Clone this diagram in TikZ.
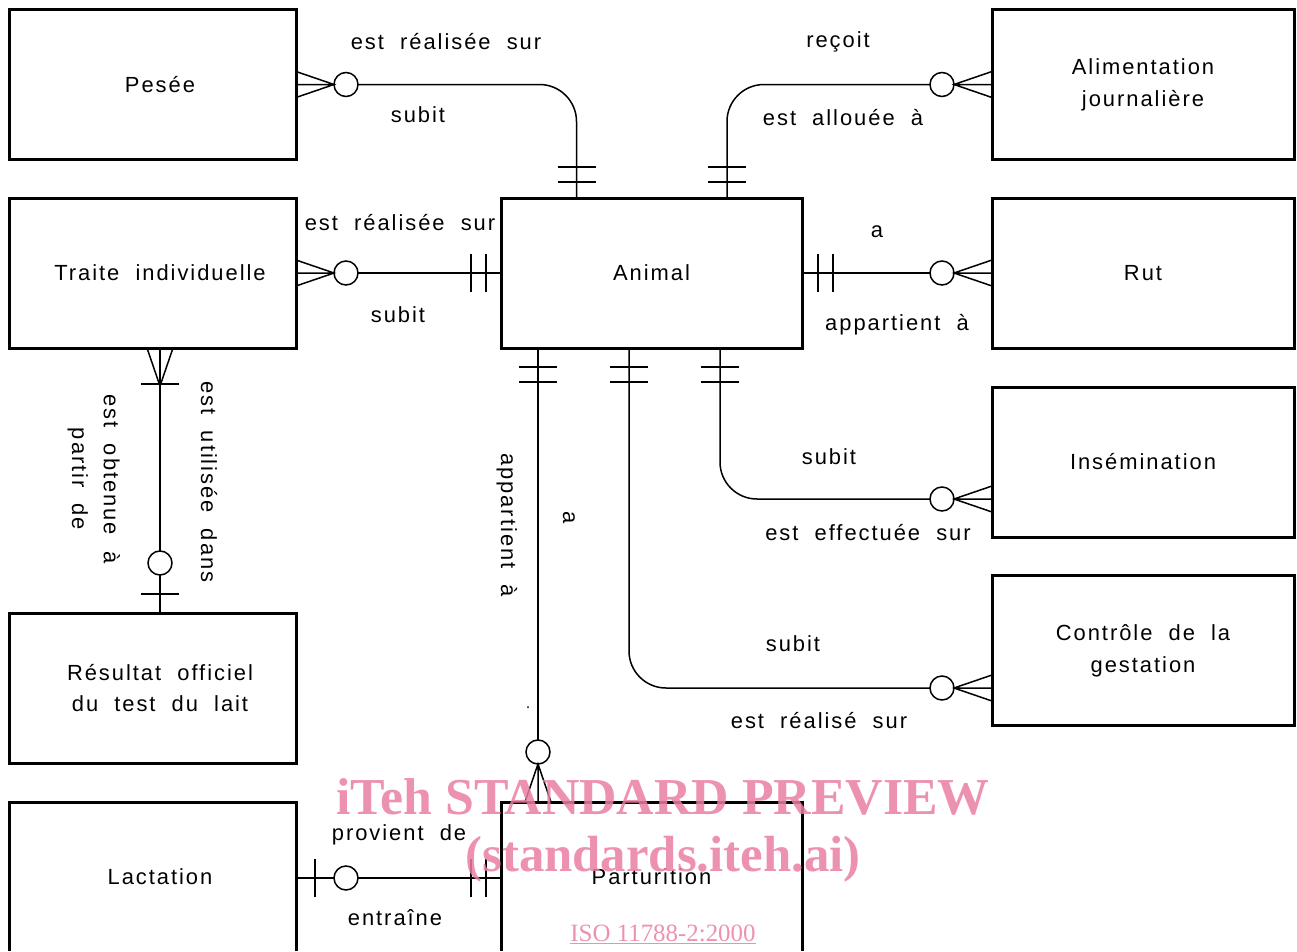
\documentclass[tikz,border=0pt]{standalone}
\usepackage{fontspec}
\setmainfont{Liberation Sans}
\newfontfamily\labfont[LetterSpace=9,WordSpace=2]{Liberation Sans}
\newfontfamily\wmfont{Liberation Serif}
\usetikzlibrary{calc}
\definecolor{wmpink}{RGB}{234,126,164}
\newcommand{\lsh}{\hspace*{14bp}}
\tikzset{
  ent/.style={draw, line width=3bp, outer sep=0pt, inner sep=0pt,
    minimum width=286bp, minimum height=150bp, align=center,
    font=\labfont\fontsize{22}{32}\selectfont},
  wide/.style={minimum width=302bp},
  mid/.style={minimum width=301bp},
  conn/.style={line width=1.5bp},
  opt/.style={draw, circle, line width=1.5bp, minimum size=24bp, inner sep=0pt, outer sep=0pt},
  lbl/.style={font=\labfont\fontsize{22}{32}\selectfont, inner sep=0pt, anchor=base, align=center},
  vlbl/.style={lbl, rotate=-90},
  wmtext/.style={text=wmpink, text opacity=0.85, inner sep=0pt, anchor=base},
  crow/.pic={\draw[conn] (0,-13) -- (38,0) -- (0,13) (0,0) -- (38,0);},
  twobar/.pic={\draw[conn] (#1,-19) -- (#1,19) (#1+15,-19) -- (#1+15,19);},
  onebar/.pic={\draw[conn] (#1,-19) -- (#1,19);},
}
\begin{document}
\begin{tikzpicture}[x=1bp,y=-1bp]
\useasboundingbox (0,0) rectangle (1297,952);
\clip (0,0) rectangle (1297,950);

% entities
\node[ent] (pesee) at (153,84.5) {\lsh Pesée};
\node[ent,wide] (alim) at (1143,84.5) {Alimentation\\journalière};
\node[ent] (traite) at (153,273) {\lsh Traite individuelle};
\node[ent,mid] (animal) at (651.5,273) {Animal};
\node[ent,wide] (rut) at (1143,273) {Rut};
\node[ent,wide] (insem) at (1143,462) {Insémination};
\node[ent,wide] (gest) at (1143,650.5) {Contrôle de la\\gestation};
\node[ent] (result) at (153,688) {\lsh Résultat officiel\\\lsh du test du lait};
\node[ent] (lact) at (153,877) {\lsh Lactation};
\node[ent,mid] (part) at (651.5,877) {Parturition};

% Pesee -- Animal
\pic at (pesee.east) {crow};
\node[opt] (o1) at ($(pesee.east)+(50,0)$) {};
\coordinate (a1) at ($(animal.north west)+(75.5,0)$);
\draw[conn, rounded corners=37bp] (o1.east) -| (a1);
\pic[rotate=90] at (a1) {twobar=16};

% Alimentation -- Animal
\pic[rotate=180] at (alim.west) {crow};
\node[opt] (o2) at ($(alim.west)+(-50,0)$) {};
\coordinate (a2) at ($(animal.north west)+(226,0)$);
\draw[conn, rounded corners=37bp] (o2.west) -| (a2);
\pic[rotate=90] at (a2) {twobar=16};

% Traite -- Animal
\pic at (traite.east) {crow};
\node[opt] (o3) at ($(traite.east)+(50,0)$) {};
\draw[conn] (o3.east) -- (animal.west);
\pic[rotate=180] at (animal.west) {twobar=15};

% Animal -- Rut
\pic[rotate=180] at (rut.west) {crow};
\node[opt] (o4) at ($(rut.west)+(-50,0)$) {};
\draw[conn] (animal.east) -- (o4.west);
\pic at (animal.east) {twobar=16};

% Traite -- Resultat
\coordinate (t5) at ($(traite.south)+(7,0)$);
\coordinate (r5) at ($(result.north)+(7,0)$);
\pic[rotate=-90] at (t5) {crow};
\pic[rotate=-90] at (t5) {onebar=36};
\node[opt] (o5) at ($(r5)+(0,-50)$) {};
\draw[conn] (t5) -- (o5.north) (o5.south) -- (r5);
\pic[rotate=90] at (r5) {onebar=19};

% Animal -- Parturition
\coordinate (a6) at ($(animal.south west)+(37,0)$);
\coordinate (p6) at ($(part.north west)+(37,0)$);
\pic[rotate=-90] at (a6) {twobar=19};
\node[opt] (o6) at ($(p6)+(0,-50)$) {};
\draw[conn] (a6) -- (o6.north);
\pic[rotate=90] at (p6) {crow};

% Animal -- Controle de la gestation
\coordinate (a7) at ($(animal.south west)+(128,0)$);
\coordinate (g7) at ($(gest.west)+(0,37.5)$);
\pic[rotate=-90] at (a7) {twobar=19};
\node[opt] (o7) at ($(g7)+(-50,0)$) {};
\draw[conn, rounded corners=37bp] (a7) |- (o7.west);
\pic[rotate=180] at (g7) {crow};

% Animal -- Insemination
\coordinate (a8) at ($(animal.south west)+(219,0)$);
\coordinate (g8) at ($(insem.west)+(0,37)$);
\pic[rotate=-90] at (a8) {twobar=19};
\node[opt] (o8) at ($(g8)+(-50,0)$) {};
\draw[conn, rounded corners=37bp] (a8) |- (o8.west);
\pic[rotate=180] at (g8) {crow};

% Lactation -- Parturition
\coordinate (l9) at ($(lact.east)+(0,1)$);
\coordinate (p9) at ($(part.west)+(0,1)$);
\pic at (l9) {onebar=19};
\node[opt] (o9) at ($(l9)+(50,0)$) {};
\draw[conn] (l9) -- (o9.west) (o9.east) -- (p9);
\pic[rotate=180] at (p9) {twobar=15};

% labels
\node[lbl] (l1) at (446,49) {est réalisée sur};
\node[lbl] (l2) at (418,122) {subit};
\node[lbl] (l3) at (838,47) {reçoit};
\node[lbl] (l4) at (843,125) {est allouée à};
\node[lbl] (l5) at (400,230) {est réalisée sur};
\node[lbl] (l6) at (398,322) {subit};
\node[lbl] (l7) at (877,237) {a};
\node[lbl] (l8) at (897,330) {appartient à};
\node[vlbl] (l9) at (201,482) {est utilisée dans};
\node[vlbl] (l10) at (72,479) {est obtenue à\\partir de};
\node[vlbl] (l11) at (501,525) {appartient à};
\node[vlbl] (l12) at (563,518) {a};
\fill (528,707) circle (1bp);
\node[lbl] (l13) at (829,464) {subit};
\node[lbl] (l14) at (868,540) {est effectuée sur};
\node[lbl] (l15) at (793,651) {subit};
\node[lbl] (l16) at (819,728) {est réalisé sur};
\node[lbl] (l17) at (399,840) {provient de};
\node[lbl] (l18) at (395,925) {entraîne};

% watermark
\node[wmtext, font=\wmfont\bfseries\fontsize{52}{60}\selectfont] (wm1) at (663,814) {iTeh STANDARD PREVIEW};
\node[wmtext, font=\wmfont\bfseries\fontsize{51}{60}\selectfont] (wm2) at (663,871) {(standards.iteh.ai)};
\node[wmtext, font=\wmfont\fontsize{25}{30}\selectfont] (wm3) at (663,941) {\underline{ISO 11788-2:2000}};
\end{tikzpicture}
\end{document}
